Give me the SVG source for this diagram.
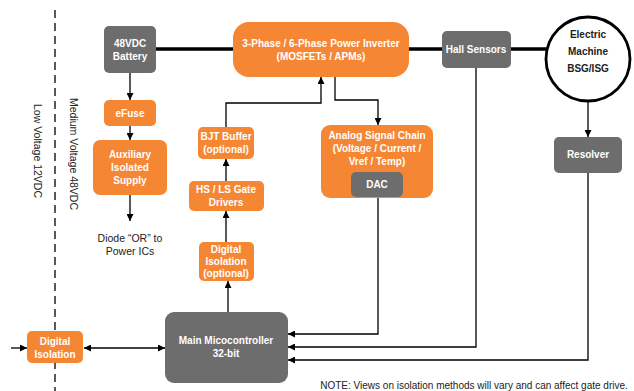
<svg xmlns="http://www.w3.org/2000/svg" width="634" height="391" viewBox="0 0 634 391">
<defs>
<marker id="ah" viewBox="0 0 10 10" refX="10" refY="5" markerWidth="7" markerHeight="7" markerUnits="userSpaceOnUse" orient="auto-start-reverse"><path d="M0,0 L10,5 L0,10 z" fill="#000"/></marker>
<style>
.o{fill:#F58634}
.g{fill:#6D6D6D}
.t{font-family:"Liberation Sans",Arial,sans-serif;font-size:10px;font-weight:bold;fill:#fff;text-anchor:middle}
.k{font-family:"Liberation Sans",Arial,sans-serif;font-size:10.5px;fill:#222;text-anchor:middle}
.kb{font-family:"Liberation Sans",Arial,sans-serif;font-size:10px;font-weight:bold;fill:#222;text-anchor:middle}
.c{fill:none;stroke:#000;stroke-width:1.3}
.th{fill:none;stroke:#000;stroke-width:3.5}
</style>
</defs>
<rect width="634" height="391" fill="#fff"/>
<g id="boundary">
<line x1="55" y1="10" x2="55" y2="391" stroke="#222" stroke-width="1.5" stroke-dasharray="8,5"/>
<text class="k" transform="translate(34,151) rotate(90)">Low Voltage 12VDC</text>
<text class="k" transform="translate(70,154) rotate(90)">Medium Voltage 48VDC</text>
</g>
<g id="connectors">
<line class="th" x1="156" y1="49" x2="234" y2="49"/>
<line class="th" x1="408" y1="49" x2="443" y2="49"/>
<line class="th" x1="510" y1="49" x2="547" y2="49"/>
<line class="c" x1="130" y1="73" x2="130" y2="100" marker-end="url(#ah)"/>
<line class="c" x1="130" y1="126" x2="130" y2="140" marker-end="url(#ah)"/>
<line class="c" x1="130" y1="195" x2="130" y2="221" marker-end="url(#ah)"/>
<polyline class="c" points="226,127 226,103 321,103 321,77" marker-end="url(#ah)"/>
<polyline class="c" points="335,77 335,100 378,100 378,125" marker-end="url(#ah)"/>
<line class="c" x1="226" y1="181" x2="226" y2="159" marker-end="url(#ah)"/>
<line class="c" x1="226" y1="242" x2="226" y2="211" marker-end="url(#ah)"/>
<line class="c" x1="228" y1="312" x2="228" y2="281" marker-end="url(#ah)"/>
<line class="c" x1="588" y1="94" x2="588" y2="137" marker-end="url(#ah)"/>
<polyline class="c" points="378,197 378,334 288,334" marker-end="url(#ah)"/>
<polyline class="c" points="476,68 476,347 288,347" marker-end="url(#ah)"/>
<polyline class="c" points="588,173 588,360 288,360" marker-end="url(#ah)"/>
<line class="c" x1="84" y1="348" x2="165" y2="348" marker-start="url(#ah)" marker-end="url(#ah)"/>
<line class="c" x1="11" y1="348" x2="27" y2="348" marker-end="url(#ah)"/>
</g>
<g id="battery"><rect class="g" x="104" y="26" width="52" height="47" rx="5"/><text class="t" x="130" y="47">48VDC</text><text class="t" x="130" y="60">Battery</text></g>
<g id="efuse"><rect class="o" x="104" y="100" width="52" height="26" rx="5"/><text class="t" x="130" y="117">eFuse</text></g>
<g id="aux"><rect class="o" x="93" y="140" width="74" height="55" rx="7"/><text class="t" x="130" y="158">Auxiliary</text><text class="t" x="130" y="171">Isolated</text><text class="t" x="130" y="184">Supply</text></g>
<text class="k" x="130" y="242">Diode “OR” to</text>
<text class="k" x="130" y="255">Power ICs</text>
<g id="inverter"><rect class="o" x="233" y="22" width="176" height="55" rx="16"/><text class="t" x="321" y="47">3-Phase / 6-Phase Power Inverter</text><text class="t" x="321" y="60">(MOSFETs / APMs)</text></g>
<g id="hall"><rect class="g" x="442" y="31" width="69" height="37" rx="5"/><text class="t" x="476" y="53">Hall Sensors</text></g>
<g id="machine"><circle cx="588" cy="59" r="42" fill="#fff" stroke="#000" stroke-width="2.8"/><text class="kb" x="588" y="38">Electric</text><text class="kb" x="588" y="55">Machine</text><text class="kb" x="588" y="72">BSG/ISG</text></g>
<g id="resolver"><rect class="g" x="554" y="137" width="68" height="36" rx="5"/><text class="t" x="588" y="158">Resolver</text></g>
<g id="bjt"><rect class="o" x="198" y="127" width="56" height="32" rx="5"/><text class="t" x="226" y="140">BJT Buffer</text><text class="t" x="226" y="153">(optional)</text></g>
<g id="gate"><rect class="o" x="189" y="181" width="75" height="30" rx="5"/><text class="t" x="226" y="193">HS / LS Gate</text><text class="t" x="226" y="206">Drivers</text></g>
<g id="digiso-opt"><rect class="o" x="199" y="242" width="55" height="39" rx="5"/><text class="t" x="226" y="253">Digital</text><text class="t" x="226" y="265">Isolation</text><text class="t" x="226" y="277">(optional)</text></g>
<g id="analog"><rect class="o" x="321" y="125" width="112" height="73" rx="9"/><text class="t" x="377" y="139">Analog Signal Chain</text><text class="t" x="377" y="152">(Voltage / Current /</text><text class="t" x="377" y="165">Vref / Temp)</text></g>
<g id="dac"><rect class="g" x="351" y="172" width="52" height="25" rx="5"/><text class="t" x="377" y="188">DAC</text></g>
<g id="mcu"><rect class="g" x="165" y="312" width="123" height="71" rx="9"/><text class="t" x="226" y="344">Main Micocontroller</text><text class="t" x="226" y="357">32-bit</text></g>
<g id="digiso"><rect class="o" x="27" y="331" width="56" height="32" rx="5"/><text class="t" x="55" y="345">Digital</text><text class="t" x="55" y="358">Isolation</text></g>
<text class="k" x="474" y="389" style="font-size:10px">NOTE: Views on isolation methods will vary and can affect gate drive.</text>
</svg>
